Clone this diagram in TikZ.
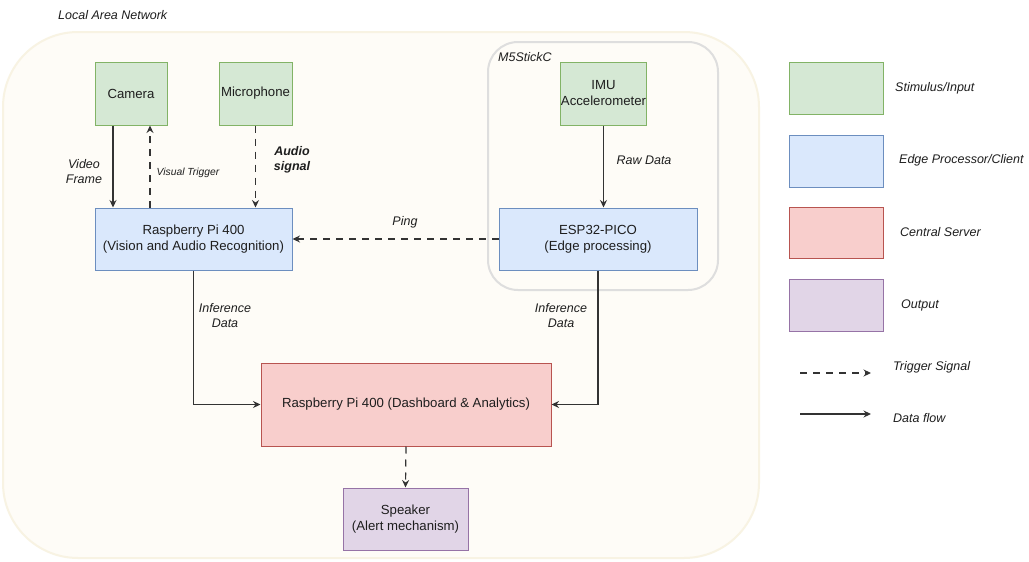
\documentclass[tikz,border=0pt]{standalone}
\usepackage{fontspec}
\setmainfont{Liberation Sans}
\usetikzlibrary{arrows.meta}
\definecolor{gfill}{HTML}{D5E8D4}\definecolor{gline}{HTML}{82B366}
\definecolor{bfill}{HTML}{DAE8FC}\definecolor{bline}{HTML}{6C8EBF}
\definecolor{rfill}{HTML}{F8CECC}\definecolor{rline}{HTML}{B85450}
\definecolor{pfill}{HTML}{E1D5E7}\definecolor{pline}{HTML}{9673A6}
\definecolor{lanfill}{HTML}{FEFCF7}\definecolor{lanline}{HTML}{F8F3E3}
\definecolor{m5line}{HTML}{DEDEDE}
\definecolor{ink}{HTML}{1E1E1E}
\definecolor{wire}{HTML}{333333}
\tikzset{
  box/.style={draw, line width=1pt, align=center, text=ink, font=\fontsize{13.2}{16}\selectfont, inner sep=0pt},
  gbox/.style={box, fill=gfill, draw=gline},
  bbox/.style={box, fill=bfill, draw=bline},
  rbox/.style={box, fill=rfill, draw=rline},
  pbox/.style={box, fill=pfill, draw=pline},
  dataflow/.style={draw=wire, line width=1.2pt, -{Stealth[length=7.5pt,width=7pt,inset=2.5pt]}},
  trigger/.style={dataflow, dash pattern=on 7pt off 6pt},
  lbl/.style={font=\fontsize{12.5}{15}\selectfont\itshape, text=ink, align=center, inner sep=0pt},
}
\begin{document}
\begin{tikzpicture}[x=1pt,y=-1pt]
\useasboundingbox (0,0) rectangle (1029,562);
\fill[white] (0,0) rectangle (1029,562);
% containers
\draw[fill=lanfill, draw=lanline, line width=2pt, rounded corners=75pt] (3,32) rectangle (759,558);
\node[lbl, anchor=west] (lan) at (58,15) {Local Area Network};
\draw[fill=lanfill, draw=m5line, line width=2pt, rounded corners=30pt] (488,42) rectangle (718,290);
\node[lbl, anchor=west] (m5) at (498,57) {M5StickC};
% nodes
\node[gbox, minimum width=72pt, minimum height=63pt] (cam) at (131,93.5) {Camera};
\node[gbox, minimum width=73pt, minimum height=63pt] (mic) at (255.5,93.5) {Microphone};
\node[bbox, minimum width=197pt, minimum height=62pt] (rpi) at (193.5,239) {Raspberry Pi 400\\(Vision and Audio Recognition)};
\node[gbox, minimum width=83pt, minimum height=63pt] (imu) at (603.5,93.5) {IMU\\Accelerometer};
\node[bbox, minimum width=198pt, minimum height=62pt] (esp) at (598,239) {ESP32-PICO\\(Edge processing)};
\node[rbox, minimum width=290pt, minimum height=83pt] (dash) at (406,404.5) {Raspberry Pi 400 (Dashboard \& Analytics)};
\node[pbox, minimum width=125pt, minimum height=62pt] (spk) at (405.5,519) {Speaker\\(Alert mechanism)};
% connectors
\draw[dataflow] ([xshift=-18pt]cam.south) -- ([xshift=-18pt]cam.south |- rpi.north);
\draw[trigger] ([xshift=19pt]cam.south |- rpi.north) -- ([xshift=19pt]cam.south);
\draw[trigger] (mic.south) -- (mic.south |- rpi.north);
\draw[trigger] (esp.west) -- (rpi.east);
\draw[dataflow] (imu.south) -- (imu.south |- esp.north);
\draw[dataflow] (rpi.south) |- (dash.west);
\draw[dataflow] (esp.south) |- (dash.east);
\draw[trigger] (dash.south) -- (spk.north);
% labels
\node[lbl] (lvf) at (84,172) {Video\\Frame};
\node[lbl, font=\fontsize{10.3}{12}\selectfont\itshape] (lvt) at (188,173) {Visual Trigger};
\node[lbl, font=\fontsize{12.5}{15}\selectfont\bfseries\itshape] (las) at (292,160) {Audio\\signal};
\node[lbl] (lping) at (405,222) {Ping};
\node[lbl] (lraw) at (644,160) {Raw Data};
\node[lbl] (linf1) at (225,316) {Inference\\Data};
\node[lbl] (linf2) at (561,316) {Inference\\Data};
% legend
\node[gbox, minimum width=94pt, minimum height=52pt] (lg1) at (836,88) {};
\node[bbox, minimum width=94pt, minimum height=52pt] (lg2) at (836,161) {};
\node[rbox, minimum width=94pt, minimum height=51pt] (lg3) at (836,232.5) {};
\node[pbox, minimum width=94pt, minimum height=52pt] (lg4) at (836,305) {};
\node[lbl, anchor=west] (lt1) at (895,88) {Stimulus/Input};
\node[lbl, anchor=west] (lt2) at (899,160) {Edge Processor/Client};
\node[lbl, anchor=west] (lt3) at (900,232) {Central Server};
\node[lbl, anchor=west] (lt4) at (901,305) {Output};
\coordinate (ta) at (800,373); \coordinate (tb) at (871,373);
\coordinate (da) at (800,414); \coordinate (db) at (871,414);
\draw[trigger] (ta) -- (tb);
\draw[dataflow] (da) -- (db);
\node[lbl, anchor=west] (lt5) at (893,367) {Trigger Signal};
\node[lbl, anchor=west] (lt6) at (893,418) {Data flow};
\end{tikzpicture}
\end{document}
